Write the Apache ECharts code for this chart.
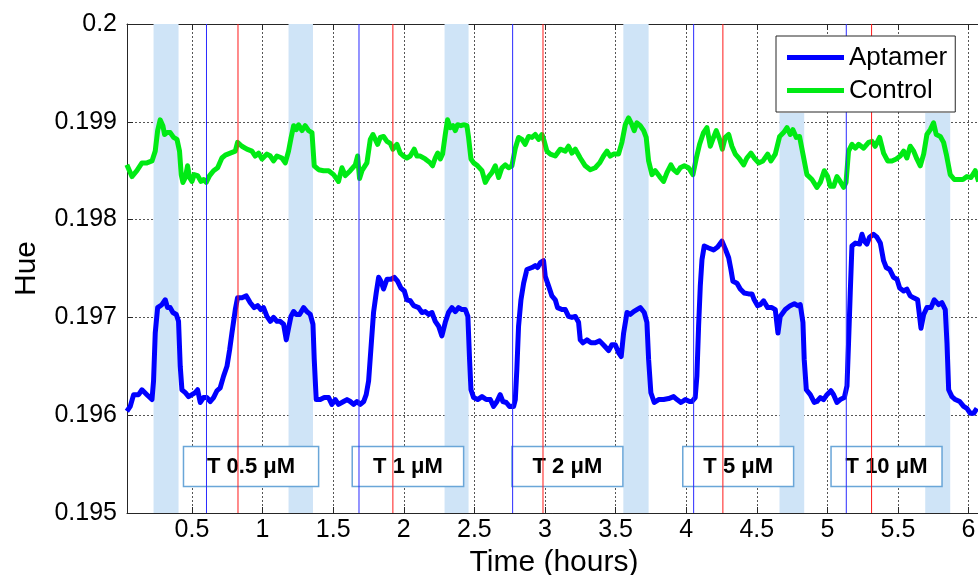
<!DOCTYPE html>
<html>
<head>
<meta charset="utf-8">
<script src="https://cdn.jsdelivr.net/npm/echarts@6/dist/echarts.min.js"></script>
<style>
  html, body { margin: 0; padding: 0; background: #ffffff; }
  #chart { width: 978px; height: 575px; }
</style>
</head>
<body>
<div id="chart"></div>
<script>
// Tick positions on the time axis (hours)
const hourTicks = [0.5, 1, 1.5, 2, 2.5, 3, 3.5, 4, 4.5, 5, 5.5, 6];

// Control sensor: [time (h), hue]
const controlSamples = [
  [0.039,0.19856],[0.075,0.19844],[0.110,0.19850],[0.146,0.19858],[0.181,0.19858],[0.217,0.19860],
  [0.240,0.19870],[0.257,0.19891],[0.275,0.19902],[0.294,0.19896],[0.306,0.19887],[0.323,0.19889],
  [0.346,0.19889],[0.370,0.19884],[0.394,0.19882],[0.412,0.19870],[0.424,0.19846],[0.436,0.19838],
  [0.453,0.19843],[0.469,0.19855],[0.483,0.19843],[0.500,0.19839],[0.516,0.19846],[0.540,0.19845],
  [0.564,0.19839],[0.582,0.19841],[0.601,0.19838],[0.625,0.19845],[0.653,0.19850],[0.682,0.19853],
  [0.712,0.19863],[0.736,0.19866],[0.771,0.19868],[0.807,0.19870],[0.823,0.19879],[0.854,0.19875],
  [0.889,0.19872],[0.925,0.19870],[0.948,0.19865],[0.972,0.19868],[0.996,0.19862],[1.031,0.19867],
  [1.055,0.19865],[1.078,0.19860],[1.102,0.19865],[1.137,0.19863],[1.161,0.19858],[1.184,0.19870],
  [1.201,0.19883],[1.220,0.19896],[1.239,0.19892],[1.255,0.19897],[1.279,0.19891],[1.302,0.19896],
  [1.326,0.19891],[1.350,0.19889],[1.366,0.19855],[1.397,0.19851],[1.432,0.19850],[1.468,0.19850],
  [1.503,0.19846],[1.538,0.19839],[1.562,0.19853],[1.586,0.19845],[1.621,0.19850],[1.657,0.19856],
  [1.673,0.19865],[1.687,0.19842],[1.704,0.19850],[1.739,0.19858],[1.763,0.19882],[1.782,0.19887],
  [1.798,0.19882],[1.815,0.19877],[1.834,0.19884],[1.857,0.19885],[1.881,0.19880],[1.904,0.19878],
  [1.923,0.19872],[1.952,0.19877],[1.975,0.19868],[1.999,0.19865],[2.022,0.19863],[2.046,0.19865],
  [2.074,0.19872],[2.093,0.19865],[2.117,0.19865],[2.152,0.19862],[2.188,0.19858],[2.204,0.19855],
  [2.223,0.19863],[2.240,0.19868],[2.259,0.19862],[2.275,0.19867],[2.294,0.19887],[2.310,0.19902],
  [2.329,0.19894],[2.348,0.19896],[2.365,0.19891],[2.381,0.19897],[2.405,0.19896],[2.424,0.19897],
  [2.447,0.19896],[2.459,0.19884],[2.476,0.19862],[2.495,0.19858],[2.523,0.19855],[2.554,0.19850],
  [2.577,0.19838],[2.601,0.19844],[2.624,0.19848],[2.648,0.19855],[2.672,0.19843],[2.695,0.19853],
  [2.719,0.19856],[2.742,0.19853],[2.766,0.19855],[2.790,0.19873],[2.813,0.19884],[2.837,0.19882],
  [2.860,0.19877],[2.884,0.19885],[2.908,0.19884],[2.931,0.19887],[2.955,0.19882],[2.979,0.19887],
  [2.995,0.19880],[3.014,0.19870],[3.038,0.19867],[3.073,0.19865],[3.108,0.19872],[3.144,0.19870],
  [3.167,0.19875],[3.191,0.19868],[3.215,0.19872],[3.250,0.19863],[3.285,0.19855],[3.321,0.19851],
  [3.356,0.19853],[3.387,0.19858],[3.415,0.19865],[3.439,0.19870],[3.462,0.19865],[3.486,0.19867],
  [3.521,0.19867],[3.545,0.19879],[3.569,0.19897],[3.592,0.19904],[3.616,0.19897],[3.632,0.19891],
  [3.651,0.19899],[3.675,0.19896],[3.699,0.19891],[3.717,0.19884],[3.734,0.19860],[3.758,0.19846],
  [3.781,0.19850],[3.812,0.19844],[3.840,0.19839],[3.864,0.19848],[3.892,0.19856],[3.911,0.19851],
  [3.935,0.19848],[3.958,0.19853],[3.987,0.19855],[4.017,0.19853],[4.048,0.19846],[4.072,0.19863],
  [4.095,0.19877],[4.123,0.19889],[4.147,0.19894],[4.171,0.19875],[4.194,0.19884],[4.213,0.19891],
  [4.237,0.19882],[4.256,0.19872],[4.277,0.19884],[4.301,0.19887],[4.324,0.19875],[4.348,0.19867],
  [4.378,0.19862],[4.407,0.19856],[4.430,0.19863],[4.459,0.19868],[4.482,0.19863],[4.513,0.19858],
  [4.544,0.19860],[4.577,0.19867],[4.600,0.19860],[4.631,0.19867],[4.662,0.19885],[4.690,0.19889],
  [4.714,0.19894],[4.737,0.19887],[4.756,0.19892],[4.780,0.19884],[4.803,0.19885],[4.827,0.19867],
  [4.855,0.19846],[4.891,0.19841],[4.926,0.19833],[4.950,0.19838],[4.978,0.19850],[5.002,0.19844],
  [5.021,0.19834],[5.044,0.19834],[5.068,0.19844],[5.091,0.19839],[5.115,0.19833],[5.132,0.19838],
  [5.150,0.19870],[5.174,0.19877],[5.198,0.19873],[5.221,0.19877],[5.257,0.19873],[5.292,0.19879],
  [5.316,0.19880],[5.339,0.19875],[5.370,0.19884],[5.398,0.19868],[5.427,0.19860],[5.457,0.19860],
  [5.488,0.19862],[5.516,0.19865],[5.540,0.19870],[5.563,0.19863],[5.587,0.19875],[5.611,0.19870],
  [5.634,0.19862],[5.658,0.19855],[5.682,0.19867],[5.705,0.19887],[5.729,0.19892],[5.752,0.19899],
  [5.771,0.19887],[5.800,0.19885],[5.823,0.19879],[5.842,0.19867],[5.870,0.19846],[5.899,0.19841],
  [5.929,0.19841],[5.960,0.19841],[5.988,0.19844],[6.017,0.19843],[6.047,0.19850],[6.071,0.19839]
];

// Aptamer sensor: [time (h), hue]
const aptamerSamples = [
  [0.039,0.19604],[0.063,0.19609],[0.087,0.19621],[0.122,0.19621],[0.146,0.19626],[0.181,0.19621],
  [0.217,0.19616],[0.228,0.19635],[0.240,0.19684],[0.257,0.19710],[0.287,0.19713],[0.311,0.19718],
  [0.327,0.19710],[0.346,0.19710],[0.365,0.19705],[0.389,0.19703],[0.405,0.19696],[0.417,0.19650],
  [0.429,0.19626],[0.453,0.19623],[0.476,0.19619],[0.500,0.19621],[0.523,0.19623],[0.540,0.19626],
  [0.559,0.19613],[0.582,0.19618],[0.606,0.19618],[0.630,0.19614],[0.653,0.19618],[0.677,0.19625],
  [0.700,0.19628],[0.724,0.19640],[0.748,0.19650],[0.767,0.19667],[0.783,0.19684],[0.807,0.19708],
  [0.823,0.19720],[0.854,0.19720],[0.885,0.19722],[0.913,0.19715],[0.941,0.19710],[0.965,0.19712],
  [0.988,0.19708],[1.007,0.19710],[1.031,0.19701],[1.055,0.19696],[1.078,0.19700],[1.102,0.19696],
  [1.125,0.19696],[1.149,0.19693],[1.168,0.19677],[1.184,0.19689],[1.201,0.19701],[1.220,0.19706],
  [1.239,0.19703],[1.262,0.19703],[1.291,0.19710],[1.314,0.19706],[1.338,0.19703],[1.357,0.19693],
  [1.366,0.19657],[1.380,0.19616],[1.409,0.19616],[1.437,0.19618],[1.468,0.19618],[1.491,0.19611],
  [1.515,0.19616],[1.538,0.19611],[1.574,0.19614],[1.598,0.19616],[1.621,0.19614],[1.645,0.19611],
  [1.668,0.19614],[1.692,0.19611],[1.716,0.19614],[1.734,0.19621],[1.751,0.19635],[1.767,0.19667],
  [1.786,0.19705],[1.805,0.19725],[1.822,0.19741],[1.838,0.19737],[1.857,0.19729],[1.881,0.19739],
  [1.909,0.19739],[1.933,0.19741],[1.956,0.19737],[1.980,0.19730],[2.004,0.19727],[2.022,0.19718],
  [2.046,0.19717],[2.070,0.19712],[2.105,0.19710],[2.129,0.19705],[2.152,0.19706],[2.176,0.19703],
  [2.200,0.19705],[2.223,0.19696],[2.247,0.19691],[2.270,0.19681],[2.294,0.19695],[2.317,0.19705],
  [2.341,0.19710],[2.365,0.19706],[2.388,0.19710],[2.412,0.19708],[2.436,0.19708],[2.454,0.19701],
  [2.466,0.19657],[2.476,0.19626],[2.495,0.19618],[2.523,0.19616],[2.554,0.19619],[2.584,0.19616],
  [2.613,0.19616],[2.636,0.19609],[2.660,0.19614],[2.683,0.19621],[2.702,0.19614],[2.726,0.19613],
  [2.749,0.19609],[2.778,0.19609],[2.790,0.19616],[2.801,0.19647],[2.813,0.19691],[2.830,0.19718],
  [2.849,0.19735],[2.872,0.19749],[2.908,0.19751],[2.931,0.19753],[2.948,0.19751],[2.967,0.19756],
  [2.990,0.19758],[3.002,0.19742],[3.026,0.19732],[3.049,0.19722],[3.073,0.19718],[3.089,0.19710],
  [3.120,0.19708],[3.144,0.19708],[3.167,0.19701],[3.191,0.19700],[3.215,0.19701],[3.238,0.19695],
  [3.250,0.19677],[3.269,0.19674],[3.297,0.19677],[3.326,0.19674],[3.356,0.19674],[3.387,0.19676],
  [3.420,0.19671],[3.451,0.19666],[3.474,0.19672],[3.498,0.19672],[3.521,0.19664],[3.540,0.19660],
  [3.557,0.19684],[3.581,0.19705],[3.604,0.19703],[3.628,0.19706],[3.651,0.19708],[3.675,0.19710],
  [3.703,0.19705],[3.722,0.19695],[3.734,0.19657],[3.750,0.19623],[3.774,0.19613],[3.805,0.19616],
  [3.840,0.19616],[3.876,0.19617],[3.911,0.19619],[3.935,0.19616],[3.963,0.19613],[3.994,0.19616],
  [4.024,0.19614],[4.041,0.19614],[4.064,0.19618],[4.076,0.19640],[4.088,0.19691],[4.100,0.19732],
  [4.112,0.19759],[4.128,0.19773],[4.159,0.19771],[4.194,0.19769],[4.223,0.19772],[4.253,0.19778],
  [4.277,0.19770],[4.301,0.19761],[4.317,0.19749],[4.331,0.19737],[4.360,0.19735],[4.383,0.19729],
  [4.411,0.19725],[4.442,0.19724],[4.466,0.19724],[4.482,0.19718],[4.506,0.19712],[4.525,0.19713],
  [4.548,0.19717],[4.577,0.19710],[4.607,0.19710],[4.631,0.19708],[4.650,0.19684],[4.666,0.19701],
  [4.702,0.19708],[4.737,0.19712],[4.766,0.19714],[4.789,0.19712],[4.808,0.19713],[4.827,0.19695],
  [4.836,0.19657],[4.851,0.19626],[4.879,0.19621],[4.907,0.19613],[4.926,0.19614],[4.950,0.19618],
  [4.973,0.19616],[4.997,0.19621],[5.025,0.19625],[5.044,0.19621],[5.068,0.19613],[5.091,0.19616],
  [5.120,0.19618],[5.139,0.19630],[5.150,0.19674],[5.162,0.19725],[5.174,0.19773],[5.198,0.19776],
  [5.228,0.19775],[5.245,0.19785],[5.261,0.19778],[5.280,0.19775],[5.299,0.19782],[5.327,0.19785],
  [5.351,0.19782],[5.375,0.19776],[5.398,0.19758],[5.417,0.19751],[5.441,0.19749],[5.469,0.19741],
  [5.493,0.19739],[5.512,0.19730],[5.540,0.19727],[5.563,0.19729],[5.587,0.19722],[5.611,0.19720],
  [5.639,0.19718],[5.663,0.19689],[5.682,0.19703],[5.705,0.19710],[5.734,0.19710],[5.757,0.19718],
  [5.771,0.19720],[5.788,0.19713],[5.811,0.19715],[5.835,0.19708],[5.847,0.19674],[5.859,0.19626],
  [5.882,0.19619],[5.906,0.19616],[5.937,0.19614],[5.965,0.19609],[5.988,0.19607],[6.012,0.19602],
  [6.036,0.19602],[6.059,0.19607]
];

// Target injection times (blue) and response peaks (red), hours
const injectionTimes = [0.603, 1.683, 2.771, 4.053, 5.134];
const peakTimes = [0.826, 1.923, 2.986, 4.260, 5.313];

// Buffer wash intervals (hours) and the hue they reach up to
const washStart = [0.228, 1.184, 2.289, 3.555, 4.661, 5.693];
const washEnd = [0.405, 1.357, 2.459, 3.734, 4.836, 5.870];
const washTop = [0.2, 0.2, 0.2, 0.2, 0.19909, 0.19909];

// Target concentration steps
const titrationLabels = ['T 0.5 μM', 'T 1 μM', 'T 2 μM', 'T 5 μM', 'T 10 μM'];
const titrationStart = [0.440, 1.635, 2.766, 3.976, 5.026];
const titrationEnd = [1.397, 2.424, 3.552, 4.761, 5.812];

const FONT = 'Liberation Sans, Arial, Helvetica, sans-serif';
const X_MIN = 0.04, X_MAX = 6.088;
const Y_MIN = 0.195, Y_MAX = 0.2;
const LABEL_LOW = 0.19527, LABEL_HIGH = 0.19568;

const APTAMER_COLOR = '#0000ff';
const CONTROL_COLOR = '#00ea14';

const gridDash = { color: '#555555', width: 1, type: [2, 2] };

const washAreas = washStart.map((s, i) => [
  { xAxis: s, yAxis: Y_MIN },
  { xAxis: washEnd[i], yAxis: washTop[i] }
]);

const titrationAreas = titrationLabels.map((name, i) => [
  { name: name, xAxis: titrationStart[i], yAxis: LABEL_LOW },
  { xAxis: titrationEnd[i], yAxis: LABEL_HIGH }
]);

// one thin vertical line per event, running the full hue range
function eventSeries(times, color) {
  return times.map(t => ({
    type: 'line',
    data: [[t, Y_MIN], [t, Y_MAX]],
    symbol: 'none',
    showSymbol: false,
    silent: true,
    z: 3,
    lineStyle: { color: color, width: 1, type: 'solid' },
    itemStyle: { color: color },
    emphasis: { disabled: true }
  }));
}

const chart = echarts.init(document.getElementById('chart'), null, { renderer: 'canvas' });

chart.setOption({
  animation: false,
  backgroundColor: '#ffffff',
  textStyle: { fontFamily: FONT },
  grid: {
    left: 127, right: -3, top: 24, bottom: 62,
    containLabel: false,
    outerBoundsMode: 'none'
  },
  legend: {
    data: [
      { name: 'Aptamer', icon: 'rect' },
      { name: 'Control', icon: 'rect' }
    ],
    orient: 'vertical',
    left: 776,
    top: 36,
    backgroundColor: '#ffffff',
    borderColor: '#262626',
    borderWidth: 1,
    borderRadius: 0,
    padding: [7, 8, 7, 11],
    itemWidth: 57,
    itemHeight: 5,
    itemGap: 4,
    selectedMode: false,
    textStyle: { fontFamily: FONT, fontSize: 26, color: '#000000', lineHeight: 29 }
  },
  xAxis: [
    {
      type: 'value',
      min: X_MIN,
      max: X_MAX,
      position: 'bottom',
      name: 'Time (hours)',
      nameLocation: 'middle',
      nameGap: 29,
      nameTextStyle: { fontFamily: FONT, fontSize: 30, color: '#000000' },
      axisLine: { show: true, onZero: false, lineStyle: { color: '#262626', width: 1 } },
      axisTick: { show: true, inside: true, length: 6, customValues: hourTicks, lineStyle: { color: '#262626' } },
      axisLabel: {
        show: true, customValues: hourTicks, margin: 5,
        fontFamily: FONT, fontSize: 25, color: '#000000',
        formatter: v => String(v)
      },
      splitLine: { show: true, lineStyle: gridDash }
    },
    {
      type: 'value',
      min: X_MIN,
      max: X_MAX,
      position: 'top',
      axisLine: { show: true, onZero: false, lineStyle: { color: '#262626', width: 1 } },
      axisTick: { show: true, inside: true, length: 6, customValues: hourTicks, lineStyle: { color: '#262626' } },
      axisLabel: { show: false, customValues: hourTicks },
      splitLine: { show: false }
    }
  ],
  yAxis: {
    type: 'value',
    min: Y_MIN,
    max: Y_MAX,
    interval: 0.001,
    name: 'Hue',
    nameLocation: 'middle',
    nameGap: 85,
    nameTextStyle: { fontFamily: FONT, fontSize: 30, color: '#000000' },
    axisLine: { show: true, onZero: false, lineStyle: { color: '#262626', width: 1 } },
    axisTick: { show: true, inside: true, length: 6, lineStyle: { color: '#262626' } },
    axisLabel: {
      margin: 10, fontFamily: FONT, fontSize: 25, color: '#000000',
      formatter: v => String(+v.toFixed(3))
    },
    splitLine: { show: true, lineStyle: gridDash }
  },
  series: [
    {
      name: 'wash',
      type: 'line',
      data: [],
      z: -1,
      silent: true,
      markArea: { silent: true, itemStyle: { color: '#cfe4f7' }, label: { show: false }, data: washAreas }
    },
    {
      name: 'Aptamer',
      type: 'line',
      data: aptamerSamples,
      symbol: 'none',
      showSymbol: false,
      lineStyle: { color: APTAMER_COLOR, width: 5, join: 'round' },
      itemStyle: { color: APTAMER_COLOR },
      z: 2
    },
    {
      name: 'Control',
      type: 'line',
      data: controlSamples,
      symbol: 'none',
      showSymbol: false,
      lineStyle: { color: CONTROL_COLOR, width: 5, join: 'round' },
      itemStyle: { color: CONTROL_COLOR },
      z: 2
    }
  ]
  .concat(eventSeries(injectionTimes, '#2b2bff'))
  .concat(eventSeries(peakTimes, '#ff1a1a'))
  .concat([
    {
      name: 'titration',
      type: 'line',
      data: [],
      z: 4,
      silent: true,
      markArea: {
        silent: true,
        itemStyle: { color: '#ffffff', borderColor: '#6aa6d8', borderWidth: 1.5 },
        label: {
          show: true, position: 'inside', color: '#000000',
          fontFamily: FONT, fontSize: 22, fontWeight: 'bold'
        },
        data: titrationAreas
      }
    }
  ])
});
</script>
</body>
</html>
